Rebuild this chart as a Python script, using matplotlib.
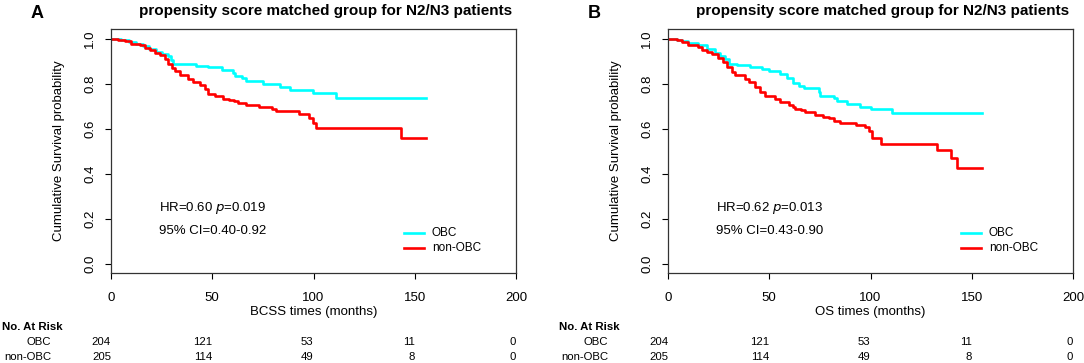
import matplotlib
matplotlib.use("Agg")
import matplotlib.pyplot as plt
from matplotlib.transforms import blended_transform_factory

plt.rcParams['font.family'] = ['Liberation Sans', 'DejaVu Sans']

# ---------------- data ----------------
title = "propensity score matched group for N2/N3 patients"
panel_letters = ["A", "B"]
xlabels = ["BCSS times (months)", "OS times (months)"]
hr_texts = [("HR=0.60 ", "p", "=0.019", "95% CI=0.40-0.92"),
            ("HR=0.62 ", "p", "=0.013", "95% CI=0.43-0.90")]
groups = ["OBC", "non-OBC"]
risk_times = [0, 50, 100, 150, 200]
risk_obc = [204, 121, 53, 11, 0]
risk_non = [205, 114, 49, 8, 0]

# Panel A (BCSS)
a_obc_t = [0, 5, 9, 12.5, 16, 19, 22, 25, 28, 29.5, 30.5, 42, 48, 55, 60, 61,
           64.7, 66.8, 74.9, 83.7, 88.6, 99.7, 110.9, 155.4]
a_obc_s = [1.0, 0.993, 0.985, 0.977, 0.968, 0.955, 0.943, 0.935, 0.924, 0.905,
           0.889, 0.880, 0.873, 0.861, 0.848, 0.836, 0.825, 0.815, 0.799, 0.787,
           0.772, 0.759, 0.739, 0.739]
a_non_t = [0, 3.5, 6.8, 10, 14.2, 16.7, 19.1, 21.6, 24.1, 26.6, 28.2, 29.9, 31.5,
           34, 38.1, 40.6, 43.9, 46.4, 48, 51.3, 55.4, 58.5, 60.6, 62.5, 66.8,
           72.9, 79.5, 81.5, 92.7, 97.7, 99.7, 101, 143, 155.4]
a_non_s = [1.0, 0.997, 0.99, 0.979, 0.972, 0.96, 0.95, 0.939, 0.93, 0.912, 0.89,
           0.871, 0.857, 0.841, 0.824, 0.809, 0.797, 0.779, 0.757, 0.747, 0.735,
           0.729, 0.722, 0.714, 0.707, 0.696, 0.687, 0.68, 0.665, 0.65, 0.628,
           0.605, 0.558, 0.558]

# Panel B (OS)
b_obc_t = [0, 4.3, 6.8, 10, 15, 19.2, 23.3, 25.7, 28.2, 29.9, 34, 40.6, 46.4,
           49.7, 55.4, 58.8, 61.5, 64.5, 67, 74.4, 75.2, 81.8, 83.5, 88.5, 94.6,
           100, 110.7, 155.3]
b_obc_s = [1.0, 0.995, 0.99, 0.982, 0.972, 0.955, 0.939, 0.924, 0.912, 0.89,
           0.883, 0.874, 0.865, 0.857, 0.842, 0.827, 0.805, 0.791, 0.781, 0.763,
           0.745, 0.736, 0.724, 0.711, 0.699, 0.688, 0.672, 0.672]
b_non_t = [0, 4.3, 6.8, 10, 15, 16.7, 19.2, 21.6, 24.9, 27.4, 29, 31.5, 33.2,
           38.1, 39.8, 43.1, 45.5, 48, 53, 55.4, 59.6, 61.5, 62.9, 65.8, 67.8,
           72.8, 76.4, 79.4, 81.8, 85.1, 92.6, 97.5, 99.2, 100.5, 105, 133,
           139.6, 142.9, 155.3]
b_non_s = [1.0, 0.995, 0.987, 0.975, 0.964, 0.95, 0.942, 0.933, 0.916, 0.898,
           0.876, 0.853, 0.839, 0.824, 0.809, 0.787, 0.764, 0.747, 0.735, 0.72,
           0.707, 0.696, 0.689, 0.684, 0.674, 0.662, 0.655, 0.648, 0.636, 0.628,
           0.618, 0.61, 0.591, 0.559, 0.535, 0.507, 0.47, 0.428, 0.428]

panels = [(a_obc_t, a_obc_s, a_non_t, a_non_s), (b_obc_t, b_obc_s, b_non_t, b_non_s)]
colors = ["#00FFFF", "#FF0000"]

# ---------------- figure ----------------
W, H = 1084, 363
fig = plt.figure(figsize=(W / 100, H / 100), dpi=100)
lefts = [111, 668]
right_w = 405
top_px, bot_px = 29, 273

for i, (ot, os_, nt, ns) in enumerate(panels):
    L = lefts[i]
    ax = fig.add_axes([L / W, 1 - bot_px / H, right_w / W, (bot_px - top_px) / H])
    ax.step(ot, os_, where='post', color=colors[0], lw=1.9)
    ax.step(nt, ns, where='post', color=colors[1], lw=1.9)
    ax.set_xlim(0, 200)
    ax.set_ylim(-0.04, 1.044)
    ax.set_xticks(risk_times)
    ax.set_yticks([0.0, 0.2, 0.4, 0.6, 0.8, 1.0])
    ax.set_yticklabels(["0.0", "0.2", "0.4", "0.6", "0.8", "1.0"], rotation=90, va='center')
    ax.tick_params(axis='x', direction='out', length=4.5, width=0.8, pad=9, labelsize=9.5)
    ax.tick_params(axis='y', direction='out', length=4.5, width=0.8, pad=6, labelsize=9.5)
    for sp in ax.spines.values():
        sp.set_linewidth(0.9)
        sp.set_color("#333333")

    # HR text
    h1, hp, h2, ci = hr_texts[i]
    ax.text(50, 0.25, r"%s$\it{%s}$%s" % (h1, hp, h2), ha='center', va='center', fontsize=9.5)
    ax.text(50, 0.147, ci, ha='center', va='center', fontsize=9.5)

    # legend
    for k, (g, c, yy) in enumerate(zip(groups, colors, [0.138, 0.071])):
        ax.plot([144.5, 154.5], [yy, yy], color=c, lw=1.9, clip_on=False)
        ax.text(158.5, yy, g, ha='left', va='center', fontsize=8.5)

    # axis labels
    fig.text((L + right_w / 2) / W, 1 - 312 / H, xlabels[i], ha='center', va='center', fontsize=9.5)
    fig.text((L - 52) / W, 1 - 151 / H, "Cumulative Survival probability", rotation=90,
             ha='center', va='center', fontsize=9.5)

    # title and letter
    fig.text((L + right_w / 2 + 12) / W, 1 - 11 / H, title, ha='center', va='center',
             fontsize=11, fontweight='bold')
    fig.text((L - 74) / W, 1 - 13 / H, panel_letters[i], ha='center', va='center',
             fontsize=13, fontweight='bold')

    # risk table
    tr = blended_transform_factory(ax.transData, fig.transFigure)
    fig.text((L - 109) / W, 1 - 327 / H, "No. At Risk", ha='left', va='center',
             fontsize=8.2, fontweight='bold')
    fig.text((L - 60) / W, 1 - 342 / H, groups[0], ha='right', va='center', fontsize=8.2)
    fig.text((L - 60) / W, 1 - 357 / H, groups[1], ha='right', va='center', fontsize=8.2)
    for t, r1, r2 in zip(risk_times, risk_obc, risk_non):
        ax.text(t, 1 - 342 / H, str(r1), transform=tr, ha='right', va='center', fontsize=8.2)
        ax.text(t, 1 - 357 / H, str(r2), transform=tr, ha='right', va='center', fontsize=8.2)

fig.savefig("out.png", dpi=100)
